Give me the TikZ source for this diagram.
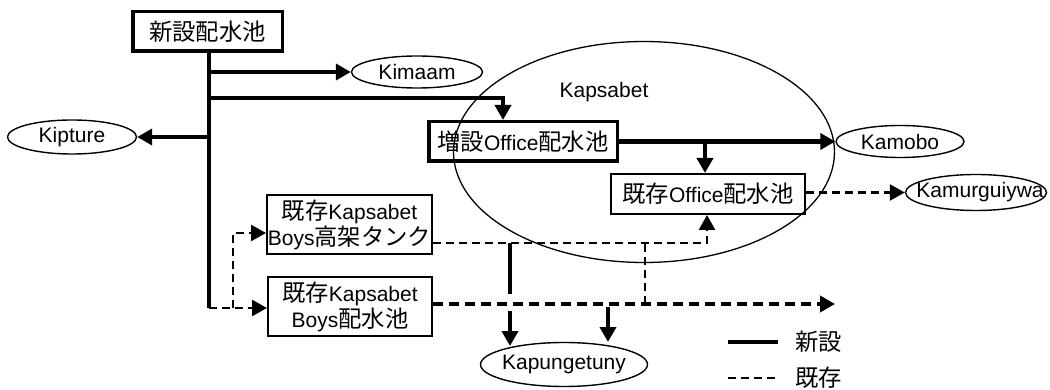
\documentclass[tikz,border=0pt]{standalone}
\usepackage{fontspec}
\setmainfont{Liberation Sans}
\newfontfamily\cjk{Noto Sans CJK JP}[Scale=1.11]
\newcommand{\jp}[1]{{\cjk #1}}
\usetikzlibrary{arrows.meta,shapes.geometric}
\begin{document}
\begin{tikzpicture}[x=1pt,y=-1pt,
  every node/.style={font=\fontsize{21}{26}\selectfont, inner sep=0pt},
  every label/.style={font=\fontsize{21}{26}\selectfont, inner sep=0pt},
  newbox/.style={draw, line width=3.5pt},
  oldbox/.style={draw, line width=2pt, align=center},
  place/.style={draw, ellipse, line width=1.4pt},
  newline/.style={line width=4.2pt},
  newarrow/.style={line width=4.2pt, -{Triangle[length=15pt,width=16pt]}},
  oldline/.style={line width=2.4pt, dash pattern=on 8pt off 5pt},
  oldarrow/.style={oldline, -{Triangle[length=15pt,width=16pt]}},
  oldthick/.style={line width=4.2pt, dash pattern=on 10pt off 6pt},
  oldthickarrow/.style={oldthick, -{Triangle[length=15pt,width=16pt]}},
]
\useasboundingbox (0,0) rectangle (1050,390);
\fill[white] (0,0) rectangle (1050,390);

% big region
\node[draw, ellipse, line width=1.3pt, minimum width=381pt, minimum height=221pt] (kap) at (644,152) {};
\node (kaplabel) at (604,92) {Kapsabet};

% boxes
\node[newbox, minimum width=149.5pt, minimum height=39.5pt] (tnew) at (207.5,31.5) {\jp{新設配水池}};
\node[newbox, minimum width=188.5pt, minimum height=39.5pt] (office) at (523,141.5) {\jp{増設}Office\jp{配水池}};
\node[oldbox, minimum width=194pt, minimum height=40pt] (exoffice) at (708,194) {\jp{既存}Office\jp{配水池}};
\node[oldbox, minimum width=165pt, minimum height=59pt] (tank) at (349.5,224.5) {\jp{既存}Kapsabet\\Boys\jp{高架タンク}};
\node[oldbox, minimum width=164pt, minimum height=59pt] (boys) at (350,306.5) {\jp{既存}Kapsabet\\Boys\jp{配水池}};

% places
\node[place, minimum width=131pt, minimum height=32pt, label={center:Kimaam}] (kimaam) at (417,72) {};
\node[place, minimum width=129pt, minimum height=34pt, label={center:Kipture}] (kipture) at (72,137) {};
\node[place, minimum width=128pt, minimum height=32pt, label={center:Kamobo}] (kamobo) at (900,141.5) {};
\node[place, minimum width=141pt, minimum height=36pt, label={[xshift=4pt]center:Kamurguiywa}] (kamur) at (976,192.5) {};
\node[place, minimum width=167pt, minimum height=44pt, label={center:Kapungetuny}] (kapung) at (564,364.5) {};

% new pipes
\coordinate (tb) at (209,308);
\draw[newline] (tnew.south -| tb) -- (tb);
\draw[newarrow] (tb |- kimaam.west) -- (kimaam.west);
\draw[newarrow] (tb |- kipture.east) -- (kipture.east);
\coordinate (c1) at (503,98);
\draw[newarrow, line join=miter] (tb |- c1) -- (c1) -- (c1 |- office.north);
\draw[newarrow] (office.east) -- (kamobo.west);
\coordinate (c2) at (705,141.5);
\draw[newarrow] (c2) -- (c2 |- exoffice.north);

% existing pipes
\draw[oldarrow] (exoffice.east |- kamur.west) -- (kamur.west);
\coordinate (c3) at (233,308);
\coordinate (c4) at (233,233);
\draw[oldarrow] (tb) -- (c3 -| boys.west);
\draw[oldarrow] (c3) -- (c4) -- (c4 -| tank.west);
\coordinate (c5) at (707,243);
\draw[oldarrow] (tank.east |- c5) -- (c5) -- (c5 |- exoffice.south);
\coordinate (c9) at (835,304);
\draw[oldthickarrow] (boys.east |- c9) -- (c9);
\coordinate (c10) at (645,304);
\draw[oldline] (c10) -- (c10 |- c5);

% new pipes to Kapungetuny
\coordinate (c6) at (510,243);
\coordinate (c7) at (510,294);
\draw[newline] (c6) -- (c7);
\coordinate (c8) at (510,311);
\coordinate (k1) at (510,346);
\draw[newarrow] (c8) -- (k1);
\coordinate (c11) at (608,307);
\coordinate (k2) at (608,342);
\draw[newarrow] (c11) -- (k2);

% legend
\coordinate (l1a) at (728,342);
\coordinate (l1b) at (778,342);
\coordinate (l2a) at (728,378);
\coordinate (l2b) at (778,378);
\draw[newline] (l1a) -- (l1b);
\draw[oldline] (l2a) -- (l2b);
\node[anchor=west] (legnew) at (795,342) {\jp{新設}};
\node[anchor=west] (legold) at (795,378) {\jp{既存}};
\end{tikzpicture}
\end{document}
